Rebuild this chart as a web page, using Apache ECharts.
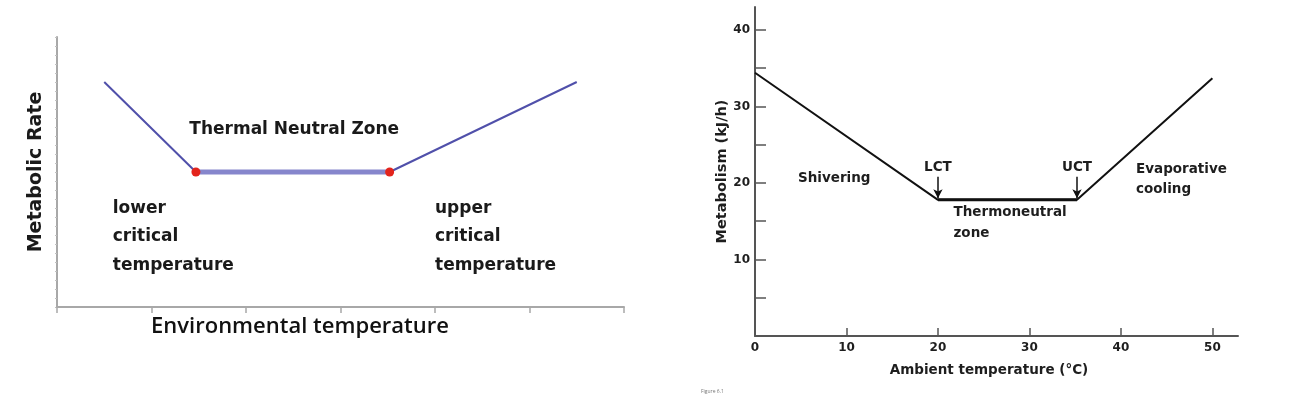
<!DOCTYPE html>
<html>
<head>
<meta charset="utf-8">
<script src="https://cdn.jsdelivr.net/npm/echarts@6/dist/echarts.min.js"></script>
<style>
html,body{margin:0;padding:0;background:#fff;}
#chart{width:1290px;height:394px;}
</style>
</head>
<body>
<div id="chart"></div>
<script>
// ---- Left chart (conceptual) ----
const leftX = [0.5, 1.47, 3.52, 5.5];
const leftY = [25, 15, 15, 25];
const leftNotes = [
  {text: 'Thermal Neutral Zone', x: 1.4, y: 19.67},
  {text: 'lower', x: 0.59, y: 10.9},
  {text: 'critical', x: 0.59, y: 7.78},
  {text: 'temperature', x: 0.59, y: 4.56},
  {text: 'upper', x: 4.0, y: 10.9},
  {text: 'critical', x: 4.0, y: 7.78},
  {text: 'temperature', x: 4.0, y: 4.56}
];
const leftXTitle = 'Environmental temperature';
const leftYTitle = 'Metabolic Rate';

// ---- Right chart (measured) ----
const rightX = [0, 20, 35.2, 50];
const rightY = [34.4, 17.8, 17.8, 33.7];
const rightXLabels = [0, 10, 20, 30, 40, 50];
const rightYLabels = [10, 20, 30, 40];
const rightYTicks = [5, 10, 15, 20, 25, 30, 35, 40];
const arrows = [
  {x: 20, from: 20.8, to: 18.0, text: 'LCT'},
  {x: 35.2, from: 20.8, to: 18.0, text: 'UCT'}
];
const rightNotes = [
  {text: 'Shivering', x: 4.7, y: 20.65},
  {text: 'Thermoneutral', x: 21.7, y: 16.08},
  {text: 'zone', x: 21.7, y: 13.46},
  {text: 'Evaporative', x: 41.65, y: 21.7},
  {text: 'cooling', x: 41.65, y: 19.2}
];
const rightXTitle = 'Ambient temperature (°C)';
const rightYTitle = 'Metabolism (kJ/h)';

const chart = echarts.init(document.getElementById('chart'), null, {renderer: 'canvas'});

const leftFont = {fontFamily: 'DejaVu Sans', fontWeight: 'bold', fontSize: 17, color: '#1a1a1a', opacity: 1};
const rightFont = {fontFamily: 'DejaVu Sans', fontWeight: 'bold', fontSize: 13.5, color: '#1e1e1e', opacity: 1};

const option = {
  animation: false,
  backgroundColor: '#fff',
  grid: [
    {left: 57, top: 37, width: 567, height: 270},
    {left: 755, top: 7, width: 483, height: 329}
  ],
  xAxis: [
    {
      gridIndex: 0, type: 'value', min: 0, max: 6, interval: 1,
      axisLine: {show: true, lineStyle: {color: '#a8a8a8', width: 2}},
      axisTick: {show: true, length: 6, lineStyle: {color: '#a8a8a8', width: 1.5}},
      axisLabel: {show: false}, splitLine: {show: false},
      name: leftXTitle, nameLocation: 'middle', nameGap: 9,
      nameTextStyle: {fontFamily: 'Open Sans', fontWeight: 600, fontSize: 22, color: '#111', padding: [0, 81, 0, 0]}
    },
    {
      gridIndex: 1, type: 'value', min: 0, max: 52.8,
      axisLine: {show: true, lineStyle: {color: '#555', width: 2}},
      axisTick: {show: true, inside: true, length: 8, customValues: rightXLabels, lineStyle: {color: '#555', width: 1.5}},
      axisLabel: {show: true, customValues: rightXLabels, margin: 6, fontFamily: 'DejaVu Sans', fontWeight: 'bold', fontSize: 12, color: '#1e1e1e'},
      splitLine: {show: false},
      name: rightXTitle, nameLocation: 'middle', nameGap: 27,
      nameTextStyle: {fontFamily: 'DejaVu Sans', fontWeight: 'bold', fontSize: 13.5, color: '#1e1e1e', padding: [0, 15, 0, 0]}
    }
  ],
  yAxis: [
    {
      gridIndex: 0, type: 'value', min: 0, max: 30, interval: 1,
      axisLine: {show: true, lineStyle: {color: '#a8a8a8', width: 2}},
      axisTick: {show: true, length: 2, lineStyle: {color: '#c0c0c0', width: 1}},
      axisLabel: {show: false}, splitLine: {show: false},
      name: leftYTitle, nameLocation: 'middle', nameGap: 11,
      nameTextStyle: {fontFamily: 'DejaVu Sans', fontWeight: 'bold', fontSize: 19, color: '#1a1a1a'}
    },
    {
      gridIndex: 1, type: 'value', min: 0, max: 43,
      axisLine: {show: true, lineStyle: {color: '#555', width: 2}},
      axisTick: {show: true, inside: true, length: 11, customValues: rightYTicks, lineStyle: {color: '#555', width: 1.5}},
      axisLabel: {show: true, customValues: rightYLabels, margin: 5, fontFamily: 'DejaVu Sans', fontWeight: 'bold', fontSize: 12, color: '#1e1e1e'},
      splitLine: {show: false},
      name: rightYTitle, nameLocation: 'middle', nameGap: 25,
      nameTextStyle: {fontFamily: 'DejaVu Sans', fontWeight: 'bold', fontSize: 14.5, color: '#1e1e1e'}
    }
  ],
  series: [
    {
      type: 'line', xAxisIndex: 0, yAxisIndex: 0, symbol: 'none', silent: true,
      data: leftX.map((x, i) => [x, leftY[i]]),
      lineStyle: {color: '#5050aa', width: 2}
    },
    {
      type: 'line', xAxisIndex: 0, yAxisIndex: 0, symbol: 'none', silent: true,
      data: [[leftX[1], leftY[1]], [leftX[2], leftY[2]]],
      lineStyle: {color: '#8686cc', width: 5}
    },
    {
      type: 'scatter', xAxisIndex: 0, yAxisIndex: 0, symbolSize: 9, silent: true, z: 5,
      data: [[leftX[1], leftY[1]], [leftX[2], leftY[2]]],
      itemStyle: {color: '#e3241c', opacity: 1}
    },
    {
      type: 'scatter', xAxisIndex: 0, yAxisIndex: 0, symbolSize: 0, silent: true,
      itemStyle: {opacity: 1},
      data: leftNotes.map(n => ({value: [n.x, n.y], name: n.text})),
      label: Object.assign({show: true, position: [0, 0], align: 'left', verticalAlign: 'middle', formatter: p => p.name}, leftFont)
    },
    {
      type: 'line', xAxisIndex: 1, yAxisIndex: 1, symbol: 'none', silent: true,
      data: rightX.map((x, i) => [x, rightY[i]]),
      lineStyle: {color: '#111', width: 2},
      markLine: {
        silent: true, symbol: ['none', 'arrow'], symbolSize: [7, 9],
        label: {show: false},
        lineStyle: {color: '#111', width: 1.5, type: 'solid'},
        data: arrows.map(a => [{coord: [a.x, a.from]}, {coord: [a.x, a.to]}])
      }
    },
    {
      type: 'line', xAxisIndex: 1, yAxisIndex: 1, symbol: 'none', silent: true,
      data: [[rightX[1], rightY[1]], [rightX[2], rightY[2]]],
      lineStyle: {color: '#111', width: 3}
    },
    {
      type: 'scatter', xAxisIndex: 1, yAxisIndex: 1, symbolSize: 0, silent: true,
      itemStyle: {opacity: 1},
      data: rightNotes.map(n => ({value: [n.x, n.y], name: n.text}))
        .concat(arrows.map(a => ({value: [a.x, a.from + 1.2], name: a.text, label: {align: 'center'}}))),
      label: Object.assign({show: true, position: [0, 0], align: 'left', verticalAlign: 'middle', formatter: p => p.name}, rightFont)
    }
  ],
  graphic: [
    {type: 'text', left: 701, top: 389, style: {text: 'Figure 6.1', fontSize: 5, fill: '#777', fontFamily: 'Open Sans'}}
  ]
};
chart.setOption(option);
</script>
</body>
</html>
